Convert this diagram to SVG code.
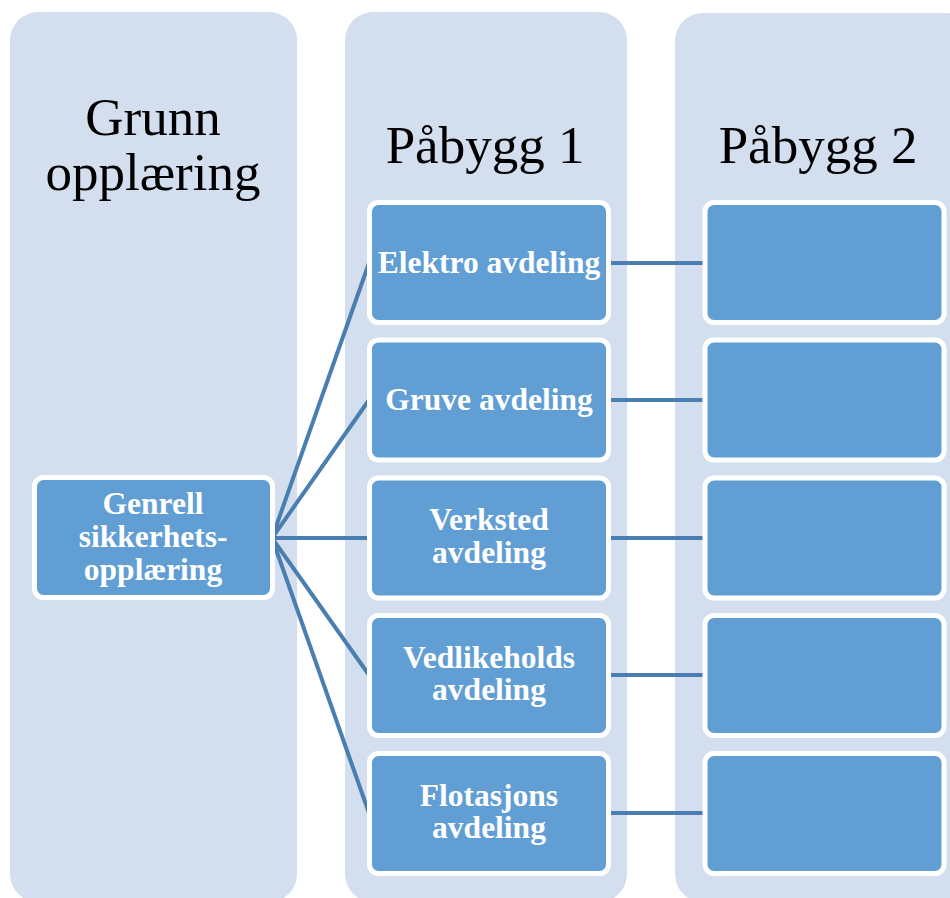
<svg xmlns="http://www.w3.org/2000/svg" width="950" height="898" viewBox="0 0 950 898">
<style>
.col{fill:#d3dfee}
.node{fill:#619ed3;stroke:#ffffff;stroke-width:5}
.title{font-family:"Liberation Serif",serif;font-size:53px;fill:#000;text-anchor:middle}
.lbl{font-family:"Liberation Serif",serif;font-size:31.5px;font-weight:bold;fill:#fff;text-anchor:middle}
.conn line{stroke:#4a7eb0;stroke-width:4}
</style>
<rect width="950" height="898" fill="#fff"/>
<g id="col-grunn"><rect class="col" x="10" y="12" width="287" height="890" rx="28"/>
<text class="title" x="153" y="135">Grunn</text><text class="title" x="153" y="190">opplæring</text></g>
<g id="col-pabygg1"><rect class="col" x="345" y="12" width="282" height="890" rx="28"/>
<text class="title" x="485" y="163">Påbygg 1</text></g>
<g id="col-pabygg2"><rect class="col" x="675" y="13" width="300" height="889" rx="28"/>
<text class="title" x="818" y="163">Påbygg 2</text></g>
<g class="conn" id="connectors">
<line x1="272" y1="538" x2="369" y2="263"/>
<line x1="272" y1="538" x2="369" y2="400"/>
<line x1="272" y1="538" x2="369" y2="538"/>
<line x1="272" y1="538" x2="369" y2="675"/>
<line x1="272" y1="538" x2="369" y2="813"/>
<line x1="609" y1="263" x2="705" y2="263"/>
<line x1="609" y1="400" x2="705" y2="400"/>
<line x1="609" y1="538" x2="705" y2="538"/>
<line x1="609" y1="675" x2="705" y2="675"/>
<line x1="609" y1="813" x2="705" y2="813"/>
</g>
<g id="genrell"><rect class="node" x="34.5" y="477.5" width="238" height="120" rx="9"/>
<text class="lbl" x="153" y="514">Genrell</text><text class="lbl" x="153" y="547">sikkerhets-</text><text class="lbl" x="153" y="580">opplæring</text></g>
<g id="elektro"><rect class="node" x="369.5" y="202.5" width="239" height="120" rx="9"/>
<text class="lbl" x="489" y="273">Elektro avdeling</text></g>
<g id="gruve"><rect class="node" x="369.5" y="340" width="239" height="120" rx="9"/>
<text class="lbl" x="489" y="410">Gruve avdeling</text></g>
<g id="verksted"><rect class="node" x="369.5" y="478" width="239" height="120" rx="9"/>
<text class="lbl" x="489" y="530">Verksted</text><text class="lbl" x="489" y="563">avdeling</text></g>
<g id="vedlikeholds"><rect class="node" x="369.5" y="615.5" width="239" height="120" rx="9"/>
<text class="lbl" x="489" y="668">Vedlikeholds</text><text class="lbl" x="489" y="700">avdeling</text></g>
<g id="flotasjons"><rect class="node" x="369.5" y="753.5" width="239" height="120" rx="9"/>
<text class="lbl" x="489" y="806">Flotasjons</text><text class="lbl" x="489" y="838">avdeling</text></g>
<g id="p2-1"><rect class="node" x="705" y="202.5" width="239" height="120" rx="9"/></g>
<g id="p2-2"><rect class="node" x="705" y="340" width="239" height="120" rx="9"/></g>
<g id="p2-3"><rect class="node" x="705" y="478" width="239" height="120" rx="9"/></g>
<g id="p2-4"><rect class="node" x="705" y="615.5" width="239" height="120" rx="9"/></g>
<g id="p2-5"><rect class="node" x="705" y="753.5" width="239" height="120" rx="9"/></g>
</svg>
